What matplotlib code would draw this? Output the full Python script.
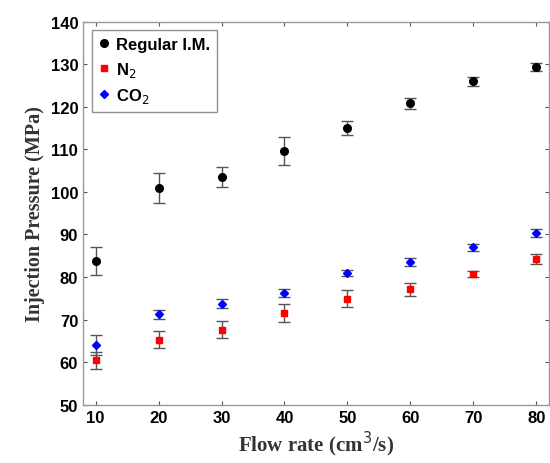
import matplotlib
matplotlib.use("Agg")
import matplotlib.pyplot as plt

flow = [10, 20, 30, 40, 50, 60, 70, 80]
regular = [83.7, 100.9, 103.5, 109.6, 115.0, 120.8, 126.0, 129.3]
regular_err = [3.3, 3.5, 2.45, 3.25, 1.7, 1.3, 1.1, 0.95]
n2 = [60.5, 65.3, 67.6, 71.6, 74.85, 77.1, 80.7, 84.2]
n2_err = [2.0, 2.05, 2.0, 2.15, 2.0, 1.55, 0.75, 1.2]
co2 = [64.1, 71.25, 73.75, 76.2, 80.95, 83.55, 86.95, 90.4]
co2_err = [2.3, 1.1, 1.1, 0.95, 0.8, 0.95, 0.8, 0.95]
xticks = [10, 20, 30, 40, 50, 60, 70, 80]
yticks = [50, 60, 70, 80, 90, 100, 110, 120, 130, 140]

fig = plt.figure(figsize=(5.5, 4.64), dpi=100)
ax = fig.add_axes([0.151, 0.1256, 0.847, 0.8255])

ekw = dict(ecolor="#555555", elinewidth=1.0, capsize=4, capthick=1.0, linestyle="none")
ax.errorbar(flow, regular, yerr=regular_err, fmt="o", color="black", markersize=5.5,
            label="Regular I.M.", **ekw)
ax.errorbar(flow, n2, yerr=n2_err, fmt="s", color="red", markersize=4.5,
            label="N$_2$", **ekw)
ax.errorbar(flow, co2, yerr=co2_err, fmt="D", color="blue", markersize=4.0,
            label="CO$_2$", **ekw)

ax.set_xlim(8, 82)
ax.set_ylim(50, 140)
ax.set_xticks(xticks)
ax.set_yticks(yticks)
for s in ax.spines.values():
    s.set_color("#999999")
    s.set_linewidth(1.0)
ax.tick_params(direction="in", top=True, right=True, length=3, width=0.8,
               color="#555555", labelsize=12)
for lab in ax.get_xticklabels() + ax.get_yticklabels():
    lab.set_fontfamily("Liberation Sans")
    lab.set_fontweight("bold")

ax.set_xlabel("Flow rate (cm$^3$/s)", fontfamily="Liberation Serif", fontsize=15,
              fontweight="bold", color="#333333", labelpad=3)
ax.set_ylabel("Injection Pressure (MPa)", fontfamily="Liberation Serif", fontsize=14.5,
              fontweight="bold", color="#333333", labelpad=4)

handles, labels = ax.get_legend_handles_labels()
handles = [h[0] for h in handles]
leg = ax.legend(handles, labels, loc="upper left", bbox_to_anchor=(0.019, 0.977),
                borderaxespad=0,
                prop={"family": "Liberation Sans", "weight": "bold", "size": 12},
                frameon=True, fancybox=False, edgecolor="#777777", handlelength=0.7,
                handletextpad=0.35, borderpad=0.4, labelspacing=0.45)
leg.get_frame().set_linewidth(1.0)

fig.savefig("out.png", dpi=100)
